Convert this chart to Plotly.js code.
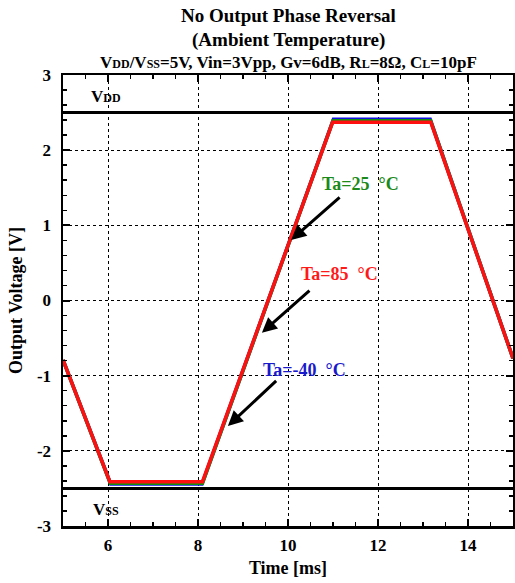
<!DOCTYPE html>
<html>
<head>
<meta charset="utf-8">
<script src="https://cdn.plot.ly/plotly-3.0.1.min.js"></script>
<style>html,body{margin:0;padding:0;background:#fff;}#chart{width:515px;height:583px;}</style>
</head>
<body>
<div id="chart"></div>
<script>
// Series data
const timeM40 = [5, 6.06, 8.09, 11.01, 13.16, 15];
const voltM40 = [-0.79, -2.44, -2.44, 2.41, 2.41, -0.77];
const time25 = [5, 6.05, 8.10, 11.00, 13.17, 15];
const volt25 = [-0.79, -2.43, -2.43, 2.39, 2.39, -0.77];
const time85 = [5, 6.04, 8.10, 10.99, 13.175, 15];
const volt85 = [-0.79, -2.41, -2.41, 2.37, 2.37, -0.77];

const railNames = ["V<span style='font-size:12px'>DD</span>", "V<span style='font-size:12px'>SS</span>"];
const railValues = [2.5, -2.5];

const xTicks = [6, 8, 10, 12, 14];
const xTickText = ["6", "8", "10", "12", "14"];
const yTicks = [-3, -2, -1, 0, 1, 2, 3];
const yTickText = ["-3", "-2", "-1", "0", "1", "2", "3"];

const labelTexts = ["Ta=25\u00a0\u00a0\u00b0C", "Ta=85\u00a0\u00a0\u00b0C", "Ta=-40\u00a0\u00a0\u00b0C"];
const labelColors = ["#1a8a1a", "#ff1a1a", "#1a1acc"];
const labelX = [11.62, 11.14, 10.37];
const labelY = [1.55, 0.35, -0.92];
const arrowHeadX = [10.07, 9.42, 8.665];
const arrowHeadY = [0.805, -0.43, -1.67];
const arrowTailX = [11.18, 10.51, 9.77];
const arrowTailY = [1.39, 0.149, -1.05];

// minor tick positions (axis configuration)
const xMinor = [];
for (let k = 0; k <= 20; k++) xMinor.push(5 + k * 0.5);
const yMinor = [];
for (let k = 0; k <= 30; k++) yMinor.push(Math.round((-3 + k * 0.2) * 10) / 10);

const font = "Liberation Serif, Times New Roman, serif";

const traces = [
  {x: timeM40, y: voltM40, mode: 'lines', line: {color: '#1010e0', width: 3.5}, name: 'Ta=-40', hoverinfo: 'skip'},
  {x: time25, y: volt25, mode: 'lines', line: {color: '#109010', width: 3.5}, name: 'Ta=25', hoverinfo: 'skip'},
  {x: time85, y: volt85, mode: 'lines', line: {color: '#ff1010', width: 3.5}, name: 'Ta=85', hoverinfo: 'skip'}
];

const shapes = railValues.map(v => ({
  type: 'line', xref: 'paper', x0: 0, x1: 1, yref: 'y', y0: v, y1: v,
  line: {color: 'black', width: 3}
}));

const annotations = [];
annotations.push({xref: 'paper', yref: 'paper', x: 0.5, y: 1, yshift: 60, yanchor: 'middle', showarrow: false,
  text: '<b>No Output Phase Reversal</b>', font: {family: font, size: 19, color: 'black'}});
annotations.push({xref: 'paper', yref: 'paper', x: 0.5, y: 1, yshift: 35, yanchor: 'middle', showarrow: false,
  text: '<b>(Ambient Temperature)</b>', font: {family: font, size: 19, color: 'black'}});
annotations.push({xref: 'paper', yref: 'paper', x: 0.5, y: 1, yshift: 13, yanchor: 'middle', showarrow: false,
  text: "<b>V<span style='font-size:12px'>DD</span>/V<span style='font-size:12px'>SS</span>=5V, Vin=3Vpp, Gv=6dB, R<span style='font-size:12px'>L</span>=8\u03a9, C<span style='font-size:12px'>L</span>=10pF</b>",
  font: {family: font, size: 17, color: 'black'}});
annotations.push({xref: 'x', yref: 'y', x: 5.95, y: 2.72, showarrow: false, text: '<b>' + railNames[0] + '</b>',
  font: {family: font, size: 17, color: 'black'}});
annotations.push({xref: 'x', yref: 'y', x: 5.95, y: -2.78, showarrow: false, text: '<b>' + railNames[1] + '</b>',
  font: {family: font, size: 17, color: 'black'}});
for (let i = 0; i < labelTexts.length; i++) {
  annotations.push({xref: 'x', yref: 'y', x: labelX[i], y: labelY[i], showarrow: false,
    text: '<b>' + labelTexts[i] + '</b>', font: {family: font, size: 18, color: labelColors[i]}});
  annotations.push({xref: 'x', yref: 'y', x: arrowHeadX[i], y: arrowHeadY[i],
    axref: 'x', ayref: 'y', ax: arrowTailX[i], ay: arrowTailY[i],
    showarrow: true, arrowhead: 2, arrowsize: 1, arrowwidth: 3, arrowcolor: 'black', text: '', standoff: 0});
}

const layout = {
  width: 515, height: 583,
  margin: {l: 63, r: 2, t: 75, b: 57},
  paper_bgcolor: 'white', plot_bgcolor: 'white',
  showlegend: false,
  font: {family: font, color: 'black'},
  xaxis: {
    range: [5, 15], tickmode: 'array', tickvals: xTicks, ticktext: xTickText,
    ticks: 'inside', ticklen: 7, tickwidth: 2, tickcolor: 'black',
    showline: true, linecolor: 'black', linewidth: 2.5, mirror: 'allticks',
    showgrid: true, gridcolor: 'black', griddash: 'dot', gridwidth: 1, zeroline: false,
    tickfont: {family: font, size: 17, color: 'black', weight: 'bold'}, ticklabelstandoff: 2,
    minor: {tickmode: 'array', tickvals: xMinor, ticks: 'inside', ticklen: 4, tickwidth: 1.5, tickcolor: 'black', showgrid: false},
    title: {text: '<b>Time [ms]</b>', font: {family: font, size: 18, color: 'black'}, standoff: 8}
  },
  yaxis: {
    range: [-3, 3], tickmode: 'array', tickvals: yTicks, ticktext: yTickText,
    ticks: 'inside', ticklen: 7, tickwidth: 2, tickcolor: 'black',
    showline: true, linecolor: 'black', linewidth: 2.5, mirror: 'allticks',
    showgrid: true, gridcolor: 'black', griddash: 'dot', gridwidth: 1, zeroline: false,
    tickfont: {family: font, size: 17, color: 'black', weight: 'bold'}, ticklabelstandoff: 6,
    minor: {tickmode: 'array', tickvals: yMinor, ticks: 'inside', ticklen: 4, tickwidth: 1.5, tickcolor: 'black', showgrid: false},
    title: {text: '<b>Output Voltage [V]</b>', font: {family: font, size: 18, color: 'black'}, standoff: 10}
  },
  shapes: shapes,
  annotations: annotations
};

Plotly.newPlot('chart', traces, layout, {displayModeBar: false, staticPlot: true});
</script>
</body>
</html>
